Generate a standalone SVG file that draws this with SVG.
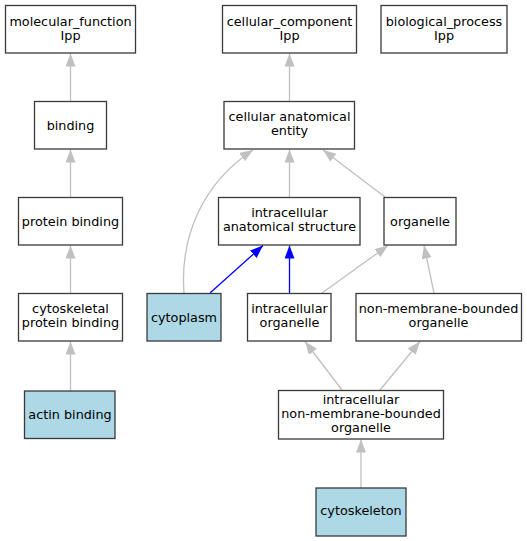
<svg xmlns="http://www.w3.org/2000/svg" width="527" height="541" viewBox="0 0 527 541">
<defs>
<style>
.n rect{fill:#ffffff;stroke:#3a3a3a;stroke-width:1.3}
.n.h rect{fill:#add8e6}
.n text{font-family:"DejaVu Sans",sans-serif;font-size:12.8px;fill:#000;text-anchor:middle}
.e path{fill:none;stroke:#c0c0c0;stroke-width:1.3}
.e path.b{stroke:#0000ff}
</style>
<marker id="ag" markerUnits="userSpaceOnUse" markerWidth="14" markerHeight="11" refX="13" refY="5" orient="auto"><path d="M0,0 L13,5 L0,10 z" fill="#c0c0c0"/></marker>
<marker id="ab" markerUnits="userSpaceOnUse" markerWidth="14" markerHeight="11" refX="13" refY="5" orient="auto"><path d="M0,0 L13,5 L0,10 z" fill="#0000ff"/></marker>
</defs>
<rect width="527" height="541" fill="#ffffff"/>
<g id="edges" class="e">
<path d="M70.5,101 L70.5,53.5" marker-end="url(#ag)"/>
<path d="M70.5,197 L70.5,149.5" marker-end="url(#ag)"/>
<path d="M70.5,293 L70.5,245.5" marker-end="url(#ag)"/>
<path d="M70.5,391 L70.5,341.5" marker-end="url(#ag)"/>
<path d="M289.5,101 L289.5,53.5" marker-end="url(#ag)"/>
<path d="M289.5,197 L289.5,149.5" marker-end="url(#ag)"/>
<path d="M385,197 L323,150" marker-end="url(#ag)"/>
<path d="M184,293 C180,240 200,185 253,150" marker-end="url(#ag)"/>
<path class="b" d="M210,293 L263,245.5" marker-end="url(#ab)"/>
<path class="b" d="M289.5,293 L289.5,245.5" marker-end="url(#ab)"/>
<path d="M322,293 L388,245.5" marker-end="url(#ag)"/>
<path d="M434,293 L424,245.5" marker-end="url(#ag)"/>
<path d="M342,390 L305,341.5" marker-end="url(#ag)"/>
<path d="M380,390 L420,341.5" marker-end="url(#ag)"/>
<path d="M361,488 L361,439.5" marker-end="url(#ag)"/>
</g>
<g id="molecular_function" class="n"><rect x="5.5" y="5.5" width="130" height="47.5"/><text x="70.5" y="25.5">molecular_function</text><text x="70.5" y="39.5">Ipp</text></g>
<g id="cellular_component" class="n"><rect x="222.5" y="5.5" width="134" height="47.5"/><text x="289.5" y="25.5">cellular_component</text><text x="289.5" y="39.5">Ipp</text></g>
<g id="biological_process" class="n"><rect x="381" y="5.5" width="126" height="47.5"/><text x="444" y="25.5">biological_process</text><text x="444" y="39.5">Ipp</text></g>
<g id="binding" class="n"><rect x="34.5" y="101.5" width="72" height="47.5"/><text x="70.5" y="129.5">binding</text></g>
<g id="cellular_anatomical_entity" class="n"><rect x="224" y="101.5" width="130.5" height="47.5"/><text x="289.5" y="121">cellular anatomical</text><text x="289.5" y="135">entity</text></g>
<g id="protein_binding" class="n"><rect x="18.5" y="197.5" width="104" height="47.5"/><text x="70.5" y="225.5">protein binding</text></g>
<g id="intracellular_anatomical_structure" class="n"><rect x="218.5" y="197.5" width="141.5" height="47.5"/><text x="289.5" y="217">intracellular</text><text x="289.5" y="231">anatomical structure</text></g>
<g id="organelle" class="n"><rect x="384" y="197.5" width="72" height="47.5"/><text x="420" y="225.5">organelle</text></g>
<g id="cytoskeletal_protein_binding" class="n"><rect x="18.5" y="293.5" width="104" height="47.5"/><text x="70.5" y="313">cytoskeletal</text><text x="70.5" y="327">protein binding</text></g>
<g id="cytoplasm" class="n h"><rect x="147" y="293.5" width="74" height="47.5"/><text x="184" y="321.5">cytoplasm</text></g>
<g id="intracellular_organelle" class="n"><rect x="247.5" y="293.5" width="83.5" height="47.5"/><text x="289.5" y="313">intracellular</text><text x="289.5" y="327">organelle</text></g>
<g id="non_membrane_bounded_organelle" class="n"><rect x="356" y="293.5" width="165.5" height="47.5"/><text x="438.5" y="313">non-membrane-bounded</text><text x="438.5" y="327">organelle</text></g>
<g id="actin_binding" class="n h"><rect x="24.5" y="391" width="90.5" height="47.5"/><text x="70" y="418.5">actin binding</text></g>
<g id="intracellular_non_membrane_bounded_organelle" class="n"><rect x="278.5" y="390.5" width="165" height="48.5"/><text x="361" y="404">intracellular</text><text x="361" y="418">non-membrane-bounded</text><text x="361" y="432">organelle</text></g>
<g id="cytoskeleton" class="n h"><rect x="316" y="488" width="90" height="48"/><text x="361" y="515">cytoskeleton</text></g>
</svg>
